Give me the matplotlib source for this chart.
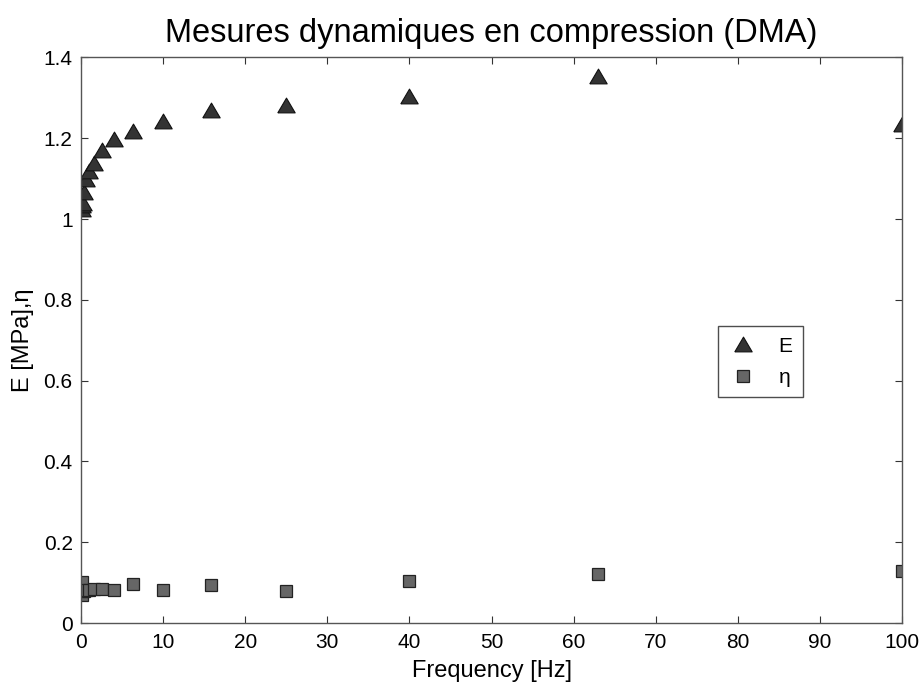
import numpy as np
import matplotlib.pyplot as plt
from matplotlib.ticker import FormatStrFormatter

plt.rcParams['font.family'] = ['Liberation Sans', 'DejaVu Sans']

# frequences de mesure [Hz]
freq = [0.1, 0.16, 0.25, 0.4, 0.63, 1.0, 1.6, 2.5, 4.0, 6.3, 10, 15.8, 25, 40, 63, 100]
# module E [MPa]
E = [1.025, 1.035, 1.04, 1.068, 1.098, 1.12, 1.138, 1.172, 1.198, 1.219,
     1.243, 1.271, 1.283, 1.304, 1.355, 1.236]
# facteur de perte eta
eta = [0.102, 0.07, 0.08, 0.078, 0.082, 0.082, 0.083, 0.084, 0.082, 0.096,
       0.081, 0.094, 0.078, 0.104, 0.122, 0.128]

tri = [(-1, -0.85), (1, -0.85), (0, 0.85), (-1, -0.85)]

fig = plt.figure(figsize=(9.23, 6.82), dpi=100)
ax = fig.add_axes([0.0878, 0.0865, 0.8895, 0.8292])

ax.plot(freq, E, linestyle='none', marker=tri, markersize=12.5,
        markerfacecolor='#333333', markeredgecolor='#111111', markeredgewidth=0.8, label='E')
ax.plot(freq, eta, linestyle='none', marker='s', markersize=9,
        markerfacecolor='#666666', markeredgecolor='#222222', markeredgewidth=0.9, label='\u03b7')

ax.set_xlim(0, 100)
ax.set_ylim(0, 1.4)
ax.set_xticks(np.arange(0, 101, 10))
ax.set_yticks(np.arange(0, 1.41, 0.2))
ax.yaxis.set_major_formatter(FormatStrFormatter('%g'))
ax.tick_params(direction='in', top=True, right=True, length=5, width=0.8,
               labelsize=15, color='#333333')
ax.tick_params(axis='x', pad=7)
ax.tick_params(axis='y', pad=6)
for s in ax.spines.values():
    s.set_color('#555555')
    s.set_linewidth(1.0)

ax.set_title('Mesures dynamiques en compression (DMA)', fontsize=23.5, pad=11)
ax.set_xlabel('Frequency [Hz]', fontsize=17, labelpad=6)
ax.set_ylabel('E [MPa],\u03b7', fontsize=17, labelpad=7)

leg = ax.legend(loc='upper left', bbox_to_anchor=(0.776, 0.525), borderaxespad=0,
                fontsize=15, frameon=True, fancybox=False, edgecolor='#222222',
                handletextpad=1.0, borderpad=0.5, labelspacing=0.6, handlelength=1.4)
leg.get_frame().set_linewidth(1.0)

fig.savefig('out.png', dpi=100)
